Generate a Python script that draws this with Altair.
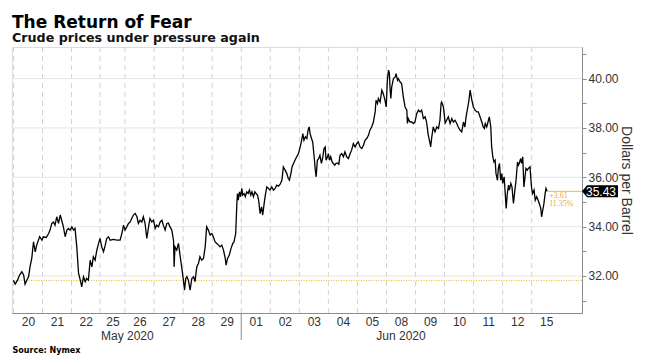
import altair as alt
import pandas as pd

# ---- data ----
day_labels = ["20", "21", "22", "25", "26", "27", "28", "29", "01", "02", "03",
              "04", "05", "08", "09", "10", "11", "12", "15"]
# session boundaries (in session units); 25 May (Memorial Day) was a short session
day_bounds = [0, 1, 2, 2.98, 3.84, 4.84, 5.84, 6.84, 7.84, 8.84, 9.84, 10.84,
              11.84, 12.84, 13.84, 14.84, 15.84, 16.84, 17.84, 18.84]
months = ["May 2020", "Jun 2020"]
month_start_idx = [0, 8]
month_end_idx = [8, 19]

t = [0.00, 0.06, 0.14, 0.21, 0.29, 0.35, 0.40, 0.46, 0.52, 0.57, 0.63, 0.69, 0.75, 0.80, 0.90, 0.98,
     1.03, 1.13, 1.21, 1.26, 1.32, 1.38, 1.43, 1.49, 1.55, 1.61, 1.66, 1.72, 1.78, 1.84, 1.89, 1.95,
     2.01, 2.07, 2.12, 2.18, 2.24, 2.30, 2.35, 2.41, 2.47, 2.52, 2.58, 2.64, 2.70, 2.75, 2.81, 2.87,
     2.93, 2.98, 3.04, 3.10, 3.16, 3.21, 3.27, 3.33, 3.44, 3.56,
     3.67, 3.73, 3.79, 3.84, 3.90, 3.96, 4.02, 4.07, 4.13, 4.19, 4.25, 4.30, 4.36, 4.42, 4.47, 4.53,
     4.59, 4.65, 4.70, 4.76, 4.82, 4.88, 4.93, 4.99, 5.05, 5.11, 5.16, 5.22, 5.28, 5.33, 5.39, 5.45,
     5.51, 5.53, 5.56, 5.62, 5.68, 5.74, 5.79, 5.85, 5.89, 5.93, 5.97, 6.02, 6.08, 6.14, 6.20, 6.25,
     6.31, 6.37, 6.42, 6.48, 6.54, 6.60, 6.65, 6.71, 6.77, 6.83, 6.88, 6.94, 7.00, 7.06, 7.11, 7.17,
     7.23, 7.29, 7.32, 7.37, 7.43, 7.49, 7.55, 7.59, 7.65,
     7.69, 7.71, 7.74, 7.78, 7.82, 7.86, 7.89, 7.94, 7.98, 8.03, 8.08, 8.12, 8.17, 8.21, 8.26, 8.31,
     8.35, 8.40, 8.44, 8.49, 8.54, 8.58, 8.63, 8.67, 8.72, 8.78, 8.83, 8.89, 8.95, 9.01, 9.06, 9.12,
     9.18, 9.24, 9.29, 9.35, 9.41, 9.46, 9.50, 9.55, 9.59, 9.64, 9.69, 9.75, 9.81, 9.87, 9.92, 9.96,
     10.00, 10.05, 10.10, 10.14, 10.18, 10.21, 10.26, 10.30, 10.35, 10.39, 10.42, 10.46, 10.51, 10.55,
     10.60, 10.65, 10.69, 10.73, 10.76, 10.81, 10.84, 10.88, 10.92, 10.97, 11.01, 11.06, 11.10, 11.15,
     11.20,
     11.24, 11.30, 11.36, 11.41, 11.47, 11.53, 11.59, 11.64, 11.70, 11.76, 11.82, 11.87, 11.93, 11.99,
     12.05, 12.10, 12.16, 12.22, 12.27, 12.33, 12.39, 12.45, 12.48, 12.53, 12.56, 12.62, 12.68, 12.73,
     12.79, 12.83, 12.87, 12.91, 12.94, 12.96, 12.99, 13.02, 13.08, 13.14, 13.17, 13.22, 13.25, 13.31,
     13.36, 13.42, 13.48, 13.54, 13.56, 13.59, 13.65, 13.71, 13.77, 13.82, 13.88, 13.94, 14.00, 14.05,
     14.11, 14.17, 14.22, 14.28, 14.34, 14.36, 14.40, 14.45, 14.51, 14.57, 14.63,
     14.68, 14.72, 14.74, 14.80, 14.86, 14.91, 14.97, 15.03, 15.09, 15.14, 15.20, 15.26, 15.31, 15.37,
     15.43, 15.49, 15.54, 15.58, 15.62, 15.67, 15.72, 15.75, 15.78, 15.83, 15.89, 15.95, 16.00, 16.06,
     16.12, 16.17, 16.21, 16.24, 16.29, 16.35, 16.38, 16.43, 16.46, 16.50, 16.54, 16.58, 16.61, 16.66,
     16.69, 16.73, 16.77, 16.81, 16.84, 16.89, 16.92, 16.96, 17.00, 17.04, 17.07, 17.12, 17.16, 17.21,
     17.26, 17.30, 17.35, 17.38, 17.41, 17.46, 17.49, 17.53, 17.57, 17.61, 17.64, 17.69, 17.72, 17.78,
     17.83, 17.87, 17.92, 17.96, 18.01, 18.06, 18.10, 18.15, 18.18, 18.22, 18.26, 18.30, 18.33, 18.37]

price = [31.83, 31.67, 31.83, 32.04, 32.17, 32.04, 31.67, 31.83, 31.97, 32.37, 32.71, 33.38, 32.98, 33.25, 33.59, 33.45,
         33.59, 33.56, 33.72, 33.86, 34.13, 34.19, 34.06, 34.40, 34.13, 34.47, 34.26, 33.99, 33.59, 33.86, 33.93, 33.86,
         33.99, 33.86, 33.93, 33.18, 32.11, 31.83, 31.56, 31.97, 31.77, 31.90, 31.83, 32.64, 32.37, 32.78, 32.64, 33.05,
         33.32, 33.52, 33.18, 32.98, 33.25, 33.52, 33.59, 33.45, 33.48, 33.45,
         33.45, 33.72, 34.06, 33.86, 33.99, 34.13, 34.19, 34.33, 34.47, 34.53, 34.40, 34.13, 34.26, 34.19, 34.40, 34.13,
         33.52, 33.99, 34.33, 34.19, 34.26, 33.93, 34.06, 33.99, 34.19, 34.26, 34.06, 33.86, 34.13, 34.15, 33.99, 33.86,
         33.45, 32.37, 33.18, 33.05, 33.32, 32.78, 32.37, 31.83, 31.43, 31.90, 31.97, 31.83, 31.43, 31.90, 31.97, 31.77,
         32.37, 32.51, 32.78, 32.64, 32.71, 33.18, 33.99, 33.86, 33.66, 33.72, 33.59, 33.38, 33.32, 33.25, 33.18, 33.25,
         33.05, 32.71, 32.44, 32.71, 32.85, 33.12, 33.32, 33.38, 33.72,
         34.94, 35.34, 35.07, 35.41, 35.21, 35.55, 35.28, 35.34, 35.21, 35.41, 35.34, 35.48, 35.28, 35.41, 35.21, 35.41,
         35.34, 35.28, 35.07, 34.53, 34.80, 34.47, 34.94, 35.28, 35.61, 35.55, 35.48, 35.61, 35.48, 35.55, 35.68, 35.64,
         35.72, 35.88, 36.42, 36.29, 36.15, 35.95, 35.88, 36.15, 36.42, 36.56, 36.69, 36.83, 36.96, 37.23, 37.50, 37.77,
         37.50, 37.64, 37.57, 37.91, 38.04, 37.77, 37.57, 37.43, 36.83, 36.29, 36.02, 36.69, 36.76, 36.89,
         36.56, 36.83, 37.17, 37.23, 36.69, 36.83, 36.96, 36.69, 36.83, 36.62, 36.56, 36.49, 36.56, 36.58,
         36.53,
         36.89, 36.96, 36.83, 37.03, 36.83, 36.76, 36.96, 37.10, 37.37, 37.23, 37.37, 37.43, 37.23, 37.17,
         37.30, 37.50, 37.57, 37.70, 37.91, 38.04, 38.24, 38.65, 39.12, 38.99, 39.19, 39.05, 39.53, 39.39,
         39.12, 38.85, 39.93, 40.34, 40.20, 39.66, 39.19, 39.66, 40.00, 40.07, 40.20, 39.93, 40.00, 39.86,
         39.80, 39.26, 38.85, 38.72, 38.18, 38.38, 38.24, 38.24, 38.18, 38.24, 38.58, 38.72, 38.65, 38.72,
         38.38, 38.45, 38.24, 37.70, 37.37, 37.23, 37.64, 38.04, 37.84, 38.04, 37.98,
         38.31, 38.99, 39.05, 38.85, 38.20, 38.31, 38.45, 38.18, 38.38, 38.24, 38.31, 38.18, 38.04, 37.91,
         37.84, 38.24, 38.04, 38.45, 38.72, 39.05, 39.53, 39.32, 39.12, 38.85, 38.72, 38.65, 38.65, 38.45,
         38.24, 38.04, 37.98, 38.18, 38.04, 38.31, 38.45, 38.04, 37.23, 36.83, 36.62, 36.69, 36.15, 35.88,
         36.36, 36.56, 35.88, 36.15, 35.75, 36.02, 35.48, 34.74, 35.34, 35.68, 35.48, 35.75, 35.61, 34.94,
         35.48, 35.88, 36.62, 36.49, 36.56, 36.76, 36.56, 36.83, 35.61, 36.02, 36.36, 36.29, 36.36, 36.42,
         35.61, 35.34, 35.48, 35.07, 35.21, 35.07, 34.94, 34.74, 34.40, 34.67, 34.94, 35.34, 35.55, 35.43]

last_price = 35.43
ref_price = 31.82
change_abs = "+3.61"
change_pct = "11.35%"
y_ticks = [31, 32, 33, 34, 35, 36, 37, 38, 39, 40, 41]
y_grid = [32, 34, 36, 38, 40]

X_MIN, X_MAX = -0.05, 19.57
Y_MIN, Y_MAX = 30.5, 41.28
W, H = 570, 266

# ---- tables ----
line_df = pd.DataFrame({"t": t, "price": price})
centers = [round((day_bounds[i] + day_bounds[i + 1]) / 2, 3) for i in range(len(day_labels))]
bounds_df = pd.DataFrame({"t": day_bounds[:-1]})
ygrid_df = pd.DataFrame({"price": y_grid})
month_df = pd.DataFrame({
    "month": months,
    "t": [(day_bounds[s] + day_bounds[e]) / 2 for s, e in zip(month_start_idx, month_end_idx)],
})
sep_df = pd.DataFrame({"t": [day_bounds[month_start_idx[1]]]})
last_t = t[-1]
last_df = pd.DataFrame({"t": [last_t], "t_end": [X_MAX], "price": [last_price],
                        "lbl": [f"{last_price:.2f}"]})
ref_df = pd.DataFrame({"price": [ref_price]})

xs = alt.Scale(domain=[X_MIN, X_MAX], nice=False, zero=False)
ys = alt.Scale(domain=[Y_MIN, Y_MAX], nice=False, zero=False)

label_expr = ("[" + ",".join(f"'{d}'" for d in day_labels) + "][indexof(["
              + ",".join(str(c) for c in centers) + "], datum.value)]")

x_axis = alt.Axis(values=centers, labelExpr=label_expr, grid=False, ticks=False,
                  domainColor="#8c8c8c", labelFont="Liberation Sans", labelFontSize=12,
                  labelColor="#333333", labelPadding=3, labelFlush=False, labelOverlap=False,
                  title="Source: Nymex", titleX=0, titleY=39, titleAlign="left",
                  titleAnchor="start", titleBaseline="alphabetic",
                  titleFont="DejaVu Sans", titleFontSize=8, titleFontWeight="bold",
                  titleColor="#000000")
y_axis = alt.Axis(orient="right", values=y_ticks,
                  labelExpr="datum.value % 2 == 0 ? format(datum.value, '.2f') : ''",
                  grid=False, tickSize=4, tickColor="#8c8c8c", domainColor="#8c8c8c",
                  labelFont="Liberation Sans", labelFontSize=12, labelColor="#333333",
                  labelPadding=2, labelOverlap=False, title="Dollars per Barrel",
                  titleFont="Liberation Sans",
                  titleFontSize=14, titleFontWeight="normal", titleColor="#333333",
                  titlePadding=0)

X = alt.X("t:Q", scale=xs, axis=x_axis)
Y = alt.Y("price:Q", scale=ys, axis=y_axis)

vgrid = alt.Chart(bounds_df).mark_rule(color="#d2d2d2", strokeDash=[5, 4], strokeWidth=1).encode(x=X)
hgrid = alt.Chart(ygrid_df).mark_rule(color="#e6e6e6", strokeWidth=1).encode(y=Y)
ref = alt.Chart(ref_df).mark_rule(color="#e2bb2e", strokeDash=[1, 1.5], strokeWidth=1).encode(y=Y)

line = alt.Chart(line_df).mark_line(color="#000000", strokeWidth=1.3).encode(x=X, y=Y)

last_rule = alt.Chart(last_df).mark_rule(color="#f0b45c", strokeWidth=1).encode(
    x=X, x2="t_end:Q", y=Y)

chg1 = alt.Chart(last_df).mark_text(text=change_abs, align="left", baseline="middle",
                                    dx=2, dy=4.5, fontSize=8, font="Liberation Serif",
                                    color="#eba73f").encode(x=X, y=Y)
chg2 = alt.Chart(last_df).mark_text(text=change_pct, align="left", baseline="middle",
                                    dx=2, dy=12.8, fontSize=8, font="Liberation Serif",
                                    color="#eba73f").encode(x=X, y=Y)

box_path = "M-1,0 L-0.72,-0.333 L1,-0.333 L1,0.333 L-0.72,0.333 Z"
X_END = alt.X("t_end:Q", scale=xs, axis=x_axis)
box = alt.Chart(last_df).mark_point(shape=box_path, size=1296, filled=True, opacity=1,
                                    color="#000000", xOffset=18).encode(x=X_END, y=Y)
box_txt = alt.Chart(last_df).mark_text(align="center", baseline="middle", fontSize=12,
                                       font="Liberation Sans", color="#ffffff",
                                       xOffset=19, yOffset=0.5).encode(x=X_END, y=Y, text="lbl:N")

month_txt = alt.Chart(month_df).mark_text(align="center", baseline="middle", fontSize=12,
                                          font="Liberation Sans", color="#333333").encode(
    x=X, y=alt.value(H + 23), text="month:N")
sep = alt.Chart(sep_df).mark_rule(color="#8c8c8c", strokeWidth=1).encode(
    x=X, y=alt.value(H), y2=alt.value(H + 27))

chart = alt.layer(vgrid, hgrid, ref, line, last_rule, chg1, chg2, box, box_txt, month_txt, sep).properties(
    width=W, height=H,
    padding={"left": 12, "top": 47, "right": 66, "bottom": 44},
    autosize=alt.AutoSizeParams(type="none"),
    title=alt.TitleParams(text="The Return of Fear", subtitle="Crude prices under pressure again",
                          anchor="start", frame="group", font="DejaVu Sans", fontSize=17,
                          fontWeight="bold", color="#000000", subtitleFont="DejaVu Sans",
                          subtitleFontSize=12.7, subtitleFontWeight="bold",
                          subtitleColor="#111111", offset=1, subtitlePadding=0),
).configure_view(stroke=None).configure(background="#ffffff")

chart.save("out.html", embed_options={"renderer": "svg", "actions": False})
